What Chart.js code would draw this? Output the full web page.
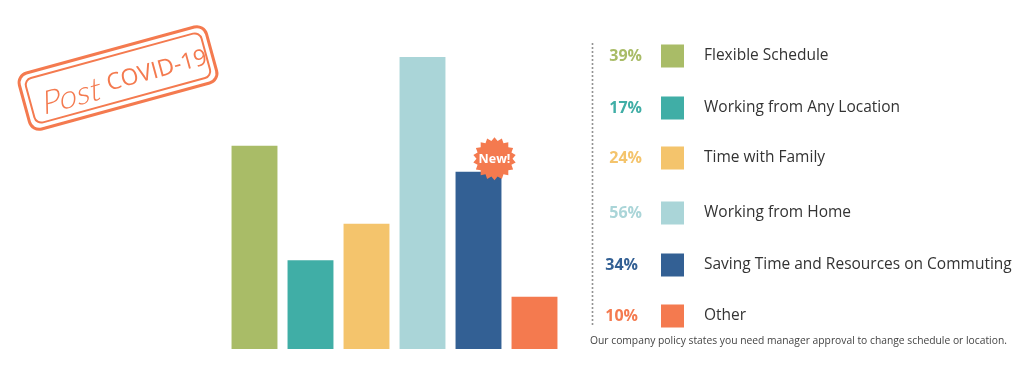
<!DOCTYPE html>
<html><head><meta charset="utf-8">
<script src="https://cdn.jsdelivr.net/npm/chart.js@4"></script>
<style>html,body{margin:0;padding:0;background:#fff;}canvas{display:block;}</style>
</head><body>
<canvas id="c" width="1024" height="380"></canvas>
<script>
const categories = ["Flexible Schedule","Working from Any Location","Time with Family","Working from Home","Saving Time and Resources on Commuting","Other"];
const values = [39,17,24,56,34,10];
const percentLabels = ["39%","17%","24%","56%","34%","10%"];
const colors = ["#A9BC67","#40AEA6","#F4C46C","#AAD5D8","#336094","#F47A4F"];
const newIndex = 4;
const footnote = "Our company policy states you need manager approval to change schedule or location.";
const stampWords = ["Post","COVID-19"];

const ORANGE = "#F47A4F";
const FONT = "'Open Sans', sans-serif";

function roundRect(ctx,x,y,w,h,r){
  ctx.beginPath();
  ctx.moveTo(x+r,y);ctx.lineTo(x+w-r,y);ctx.arcTo(x+w,y,x+w,y+r,r);
  ctx.lineTo(x+w,y+h-r);ctx.arcTo(x+w,y+h,x+w-r,y+h,r);
  ctx.lineTo(x+r,y+h);ctx.arcTo(x,y+h,x,y+h-r,r);
  ctx.lineTo(x,y+r);ctx.arcTo(x,y,x+r,y,r);ctx.closePath();
}

const decor = {
  id:'decor',
  afterDraw(chart){
    const ctx = chart.ctx;
    // Stamp
    ctx.save();
    ctx.translate(118,78);
    ctx.rotate(-15.3*Math.PI/180);
    ctx.strokeStyle = ORANGE;
    ctx.lineWidth = 3;
    roundRect(ctx,-97,-29,194,58,10); ctx.stroke();
    ctx.lineWidth = 2;
    roundRect(ctx,-91,-23,182,46,7); ctx.stroke();
    ctx.fillStyle = ORANGE;
    ctx.textBaseline = 'alphabetic';
    ctx.font = "400 23px " + FONT;
    ctx.textAlign = 'left';
    ctx.fillText(stampWords[1],-12,10);
    ctx.save();
    ctx.translate(-82,16);
    ctx.transform(1,0,-0.25,1,0,0);
    ctx.font = "300 32px Lato, sans-serif";
    ctx.fillText(stampWords[0],0,0);
    ctx.restore();
    ctx.restore();

    // New! badge
    const meta = chart.getDatasetMeta(0);
    const bar = meta.data[newIndex];
    const cx = bar.x + 16, cy = bar.y - 13;
    ctx.save();
    ctx.fillStyle = ORANGE;
    ctx.beginPath();
    const n = 18, R = 21.5, r = 18;
    for (let i=0;i<2*n;i++){
      const a = i*Math.PI/n - Math.PI/2;
      const rr = i%2===0 ? R : r;
      const px = cx + rr*Math.cos(a), py = cy + rr*Math.sin(a);
      if(i===0) ctx.moveTo(px,py); else ctx.lineTo(px,py);
    }
    ctx.closePath(); ctx.fill();
    ctx.fillStyle = '#fff';
    ctx.font = "bold 12.5px " + FONT;
    ctx.textAlign = 'center'; ctx.textBaseline = 'middle';
    ctx.fillText("New!",cx,cy+0.5);
    ctx.restore();

    // Legend
    ctx.save();
    ctx.fillStyle = '#8a8a8a';
    for (let y=44; y<=326; y+=4){ ctx.beginPath(); ctx.arc(592.5,y,1,0,Math.PI*2); ctx.fill(); }
    const rowsY = [56,108,158,213,265,316];
    categories.forEach((cat,i)=>{
      const y = rowsY[i];
      ctx.fillStyle = colors[i];
      ctx.font = "bold 16px " + FONT;
      ctx.textAlign = 'right'; ctx.textBaseline = 'middle';
      ctx.fillText(percentLabels[i], i>=4 ? 638 : 642, y);
      ctx.fillRect(661, y-11.5, 23, 23);
      ctx.fillStyle = '#333';
      ctx.font = "15.5px " + FONT;
      ctx.textAlign = 'left';
      ctx.fillText(cat, 704, y);
    });
    ctx.fillStyle = '#444';
    ctx.font = "10.3px " + FONT;
    ctx.textAlign = 'left'; ctx.textBaseline = 'middle';
    ctx.fillText(footnote, 590, 341);
    ctx.restore();
  }
};

new Chart(document.getElementById('c'), {
  type:'bar',
  data:{ labels:categories, datasets:[{ data:values, backgroundColor:colors, borderWidth:0, barPercentage:0.82, categoryPercentage:1 }]},
  options:{
    responsive:false, animation:false,
    layout:{ padding:{ left:226.5, right:461.5, top:57, bottom:31 } },
    plugins:{ legend:{display:false}, tooltip:{enabled:false} },
    scales:{ x:{display:false}, y:{display:false, min:0, max:56} }
  },
  plugins:[decor]
});
</script>
</body></html>
